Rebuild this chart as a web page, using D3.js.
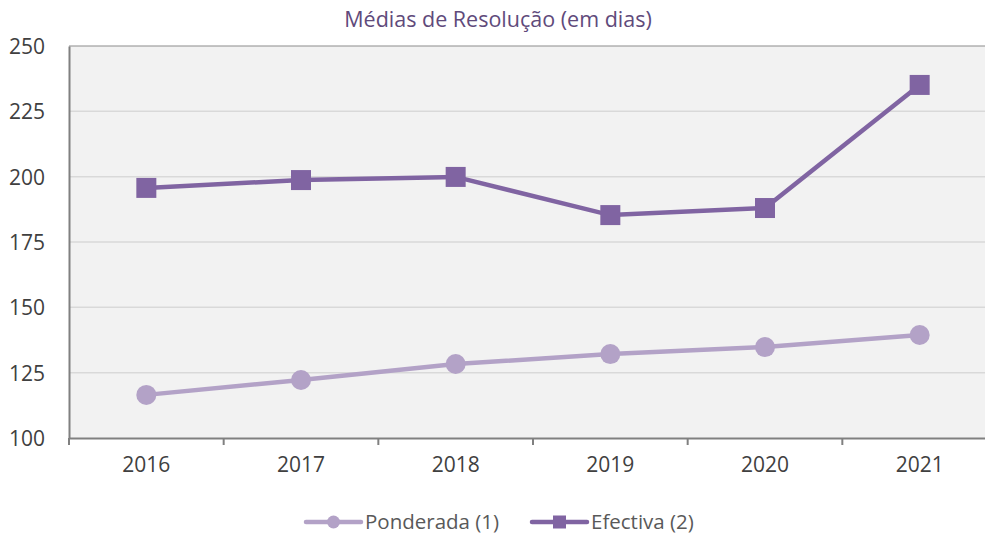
<!DOCTYPE html>
<html><head><meta charset="utf-8">
<script src="https://cdn.jsdelivr.net/npm/d3@7"></script>
<style>body{margin:0;background:#fff;}svg{display:block;font-family:"Open Sans",Calibri,sans-serif;} svg text{font-family:"Open Sans",sans-serif;}</style>
</head><body>
<svg id="c" width="985" height="534"></svg>
<script>
const years = ["2016","2017","2018","2019","2020","2021"];
const ponderada = [116.5, 122.2, 128.3, 132.1, 134.8, 139.4];
const efectiva = [195.7, 198.7, 199.9, 185.3, 188.0, 235.1];
const yTicks = [100,125,150,175,200,225,250];
const seriesNames = ["Ponderada (1)","Efectiva (2)"];

const svg = d3.select("#c");
const m = {l:69, t:46, r:997, b:438};
const x = d3.scaleBand().domain(years).range([m.l, m.r]);
const y = d3.scaleLinear().domain([100,250]).range([m.b, m.t]);

svg.append("rect").attr("x",m.l).attr("y",m.t).attr("width",m.r-m.l).attr("height",m.b-m.t).attr("fill","#f2f2f2");
svg.append("g").selectAll("line").data(yTicks.filter(d=>d>100 && d<250)).join("line")
  .attr("x1",m.l).attr("x2",m.r).attr("y1",d=>y(d)).attr("y2",d=>y(d))
  .attr("stroke","#d9d9d9").attr("stroke-width",1.5);
svg.append("line").attr("x1",m.l).attr("x2",m.r).attr("y1",y(250)).attr("y2",y(250)).attr("stroke","#8c8c8c").attr("stroke-width",1.2);

const yAxis = svg.append("g").attr("transform",`translate(${m.l},0)`).call(d3.axisLeft(y).tickValues(yTicks).tickSize(0).tickPadding(24));
yAxis.attr("font-family",null).attr("font-size",null);
yAxis.select(".domain").attr("stroke","#808080").attr("stroke-width",2);
yAxis.selectAll("text").attr("font-size",21).attr("fill","#404040").attr("dy","0.35em").attr("text-anchor","start").attr("x",-m.l+9);

const xAxis = svg.append("g").attr("transform",`translate(0,${m.b})`).call(d3.axisBottom(x).tickSize(0).tickPadding(19));
xAxis.attr("font-family",null).attr("font-size",null);
xAxis.select(".domain").attr("stroke","#808080").attr("stroke-width",2);
xAxis.selectAll("text").attr("font-size",21).attr("fill","#404040");
svg.append("g").selectAll("line").data(years).join("line")
  .attr("x1",d=>x(d)).attr("x2",d=>x(d)).attr("y1",m.b).attr("y2",m.b+7)
  .attr("stroke","#808080").attr("stroke-width",2);

const cx = d => x(d)+x.bandwidth()/2;
const line = d3.line().x((d,i)=>cx(years[i])).y(d=>y(d));

svg.append("path").datum(ponderada).attr("d",line).attr("fill","none").attr("stroke","#b3a2c7").attr("stroke-width",4.5);
svg.append("g").selectAll("circle").data(ponderada).join("circle")
  .attr("cx",(d,i)=>cx(years[i])).attr("cy",d=>y(d)).attr("r",10).attr("fill","#b3a2c7");

svg.append("path").datum(efectiva).attr("d",line).attr("fill","none").attr("stroke","#8064a2").attr("stroke-width",4.5);
svg.append("g").selectAll("rect").data(efectiva).join("rect")
  .attr("x",(d,i)=>cx(years[i])-10).attr("y",d=>y(d)-10).attr("width",20).attr("height",20).attr("fill","#8064a2");

svg.append("text").attr("x",498).attr("y",27).attr("text-anchor","middle").attr("font-size",21.5).attr("fill","#604a7b").text("Médias de Resolução (em dias)");

// legend
const lg = svg.append("g");
const L = [{x:306, c:"#b3a2c7", s:"circle"},{x:532, c:"#8064a2", s:"rect"}];
L.forEach((o,i)=>{
  lg.append("line").attr("x1",o.x).attr("x2",o.x+55).attr("y1",522).attr("y2",522).attr("stroke",o.c).attr("stroke-width",4.5).attr("stroke-linecap","round");
  if(o.s==="circle") lg.append("circle").attr("cx",o.x+27.5).attr("cy",522).attr("r",6.5).attr("fill",o.c);
  else lg.append("rect").attr("x",o.x+21).attr("y",515.5).attr("width",13).attr("height",13).attr("fill",o.c);
  lg.append("text").attr("x",o.x+59).attr("y",522).attr("dy","0.35em").attr("font-size",20.5).attr("fill","#595959").text(seriesNames[i]);
});
</script>
</body></html>
